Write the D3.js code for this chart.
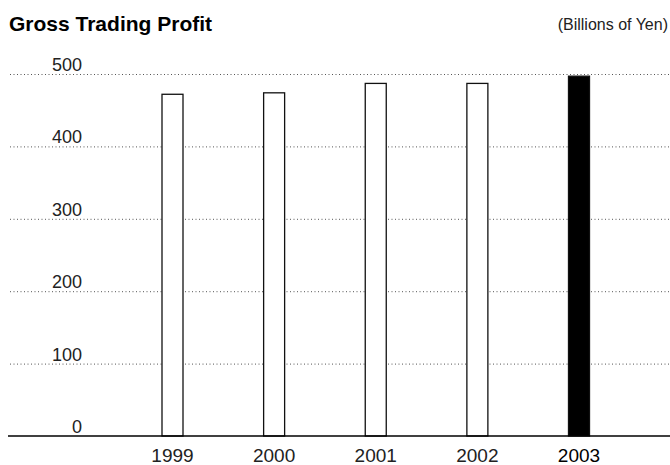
<!DOCTYPE html>
<html>
<head>
<meta charset="utf-8">
<script src="https://cdn.jsdelivr.net/npm/d3@7"></script>
<style>
  body { margin: 0; background: #fff; }
  svg { display: block; font-family: "Liberation Sans", Arial, Helvetica, sans-serif; }
</style>
</head>
<body>
<svg></svg>
<script>
var years = ["1999", "2000", "2001", "2002", "2003"];
var profits = [472, 474, 487, 487, 497];
var yTicks = [0, 100, 200, 300, 400, 500];
var highlightYear = "2003";

/* svg setting */
var svgWidth = 670;
var svgHeight = 465;
var scale = {};

var svg = d3.select("svg")
    .attr("width", svgWidth)
    .attr("height", svgHeight);

setScale();
drawTitle();
drawGrid();
drawBars();
drawAxis();

function setScale(){
  scale.x = d3.scalePoint()
      .domain(years)
      .range([172.5, 579]);

  scale.y = d3.scaleLinear()
      .domain([0, 500])
      .range([436, 74]);
}

function drawTitle(){
  svg.append("text")
      .attr("x", 9)
      .attr("y", 31)
      .attr("font-size", 21)
      .attr("font-weight", "bold")
      .attr("fill", "#000")
      .text("Gross Trading Profit");

  svg.append("text")
      .attr("x", 668)
      .attr("y", 30)
      .attr("text-anchor", "end")
      .attr("font-size", 16)
      .attr("fill", "#222")
      .text("(Billions of Yen)");
}

// dotted grid lines with their labels sitting above, baseline drawn solid
function drawGrid(){
  var g = svg.append("g").attr("class", "grid");

  g.selectAll("line")
      .data(yTicks.filter(function(d){ return d > 0; }))
      .enter()
      .append("line")
      .attr("x1", 10)
      .attr("x2", 670)
      .attr("y1", function(d){ return scale.y(d) + 0.5; })
      .attr("y2", function(d){ return scale.y(d) + 0.5; })
      .attr("stroke", "#555")
      .attr("stroke-width", 1)
      .attr("stroke-dasharray", "1,2.5");

  g.selectAll("text")
      .data(yTicks)
      .enter()
      .append("text")
      .attr("x", 82)
      .attr("y", function(d){ return scale.y(d) - 3; })
      .attr("text-anchor", "end")
      .attr("font-size", 18)
      .attr("fill", "#222")
      .text(function(d){ return d; });
}

function drawBars(){
  var bw = 21;
  svg.append("g")
      .selectAll("rect")
      .data(years)
      .enter()
      .append("rect")
      .attr("x", function(d){ return scale.x(d) - bw / 2; })
      .attr("y", function(d, i){ return scale.y(profits[i]); })
      .attr("width", bw)
      .attr("height", function(d, i){ return scale.y(0) - scale.y(profits[i]); })
      .attr("fill", function(d){ return d === highlightYear ? "#000" : "#fff"; })
      .attr("stroke", "#111")
      .attr("stroke-width", 1.3);
}

function drawAxis(){
  svg.append("line")
      .attr("x1", 8)
      .attr("x2", 670)
      .attr("y1", scale.y(0))
      .attr("y2", scale.y(0))
      .attr("stroke", "#000")
      .attr("stroke-width", 1.5);

  svg.append("g")
      .selectAll("text")
      .data(years)
      .enter()
      .append("text")
      .attr("x", function(d){ return scale.x(d); })
      .attr("y", 462)
      .attr("text-anchor", "middle")
      .attr("font-size", 19)
      .attr("fill", function(d){ return d === highlightYear ? "#000" : "#222"; })
      .text(function(d){ return d; });
}
</script>
</body>
</html>
